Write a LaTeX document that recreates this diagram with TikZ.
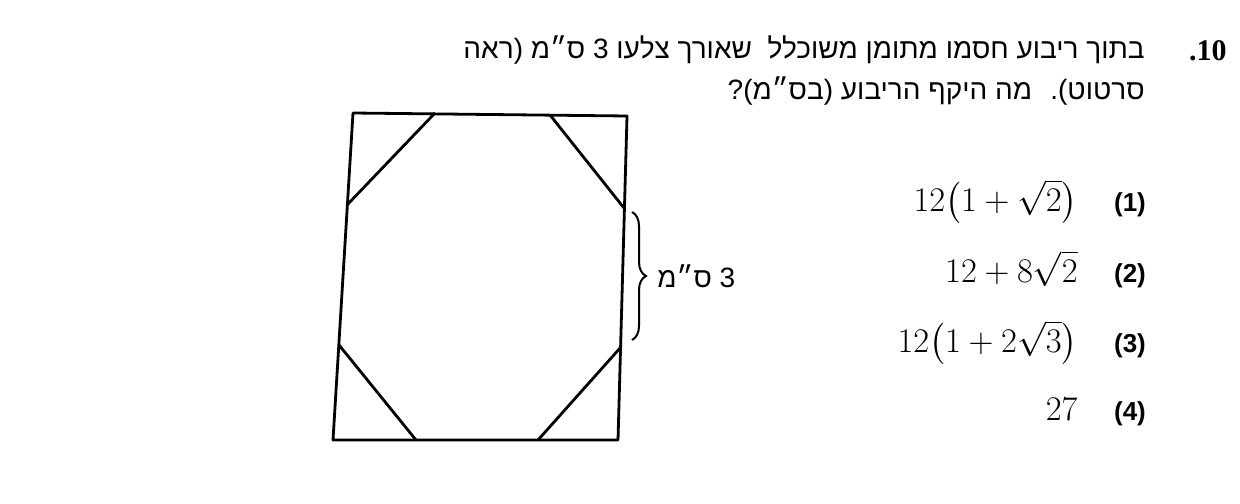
\documentclass[tikz,border=0pt]{standalone}
\usepackage{amsmath}
\usepackage{fontspec}
\usepackage{tikz}
\usetikzlibrary{decorations.pathreplacing}
\newfontfamily\hebfont[Script=Hebrew]{Liberation Sans}
\newfontfamily\numfont{Liberation Serif}
\newfontfamily\labfont{Liberation Sans}
\TeXXeTstate=1

\begin{document}
\begin{tikzpicture}[x=0.5pt,y=0.5pt,yscale=-1,xscale=1,
  heb/.style={font=\hebfont\fontsize{14}{16}\selectfont, inner sep=0pt},
  ans/.style={font=\fontsize{18}{20}\selectfont, anchor=base east, inner sep=0pt},
  opt/.style={font=\labfont\bfseries\fontsize{13}{15}\selectfont, anchor=base, inner sep=0pt},
  edge/.style={line width=1.4pt, line join=round}]
\useasboundingbox (0,0) rectangle (1240,503);

%Square corners
\coordinate (tl) at (353,113);
\coordinate (tr) at (627,116);
\coordinate (br) at (618,440);
\coordinate (bl) at (333,440);
%Octagon corners on the square
\coordinate (t1) at (435,113);
\coordinate (t2) at (550,115);
\coordinate (r1) at (624,208);
\coordinate (r2) at (621,347);
\coordinate (b1) at (538,440);
\coordinate (b2) at (416,440);
\coordinate (l1) at (339,345);
\coordinate (l2) at (347,205);

%Shape: Square
\draw [edge] (tl) -- (tr) -- (br) -- (bl) -- cycle ;
%Straight Lines: cut corners
\draw [edge] (t1) -- (l2) ;
\draw [edge] (t2) -- (r1) ;
\draw [edge] (r2) -- (b1) ;
\draw [edge] (b2) -- (l1) ;

%Brace
\coordinate (br1) at (632,212);
\coordinate (br2) at (632,340);
\draw [line width=1pt, decorate, decoration={brace, amplitude=7pt}] (br1) -- (br2) ;

% Text Node
\draw (657,287) node [heb, anchor=base west] (side) {\beginR 3 ס״מ\endR};

% Text Node
\draw (1227,60) node [font=\numfont\bfseries\fontsize{15}{17}\selectfont, anchor=base east, inner sep=0pt] (qnum) {.10};
% Text Node
\draw (1145,58) node [heb, anchor=base east] (line1) {\beginR בתוך ריבוע חסמו מתומן משוכלל \ שאורך צלעו 3 ס״מ (ראה\endR};
% Text Node
\draw (1145,99) node [heb, anchor=base east] (line2) {\beginR סרטוט). \ מה היקף הריבוע (בס״מ)?\endR};

% Text Node
\draw (1078,211) node [ans] (ans1) {$12\bigl(1+\sqrt{2}\bigr)$};
\draw (1130,211) node [opt] (opt1) {(1)};
% Text Node
\draw (1078,282) node [ans] (ans2) {$12+8\sqrt{2}$};
\draw (1130,282) node [opt] (opt2) {(2)};
% Text Node
\draw (1078,352) node [ans] (ans3) {$12\bigl(1+2\sqrt{3}\bigr)$};
\draw (1130,352) node [opt] (opt3) {(3)};
% Text Node
\draw (1078,420) node [ans] (ans4) {$27$};
\draw (1130,420) node [opt] (opt4) {(4)};

\end{tikzpicture}
\end{document}
